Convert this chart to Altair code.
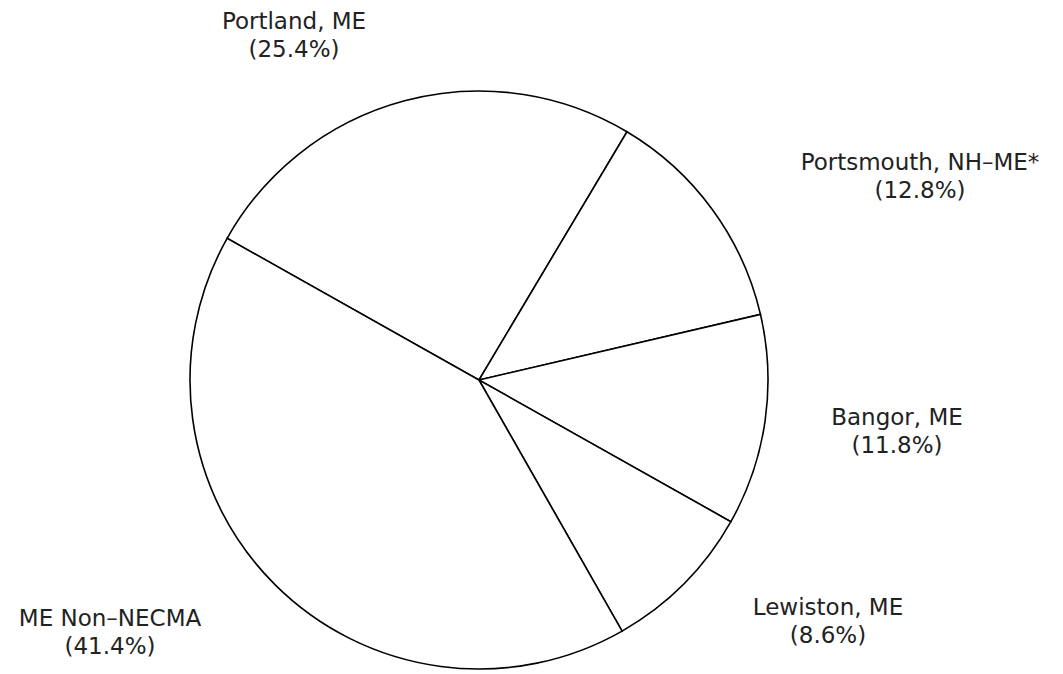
import math
import altair as alt
import pandas as pd

categories = ["Portland, ME", "Portsmouth, NH–ME*", "Bangor, ME", "Lewiston, ME", "ME Non–NECMA"]
shares = [25.4, 12.8, 11.8, 8.6, 41.4]
order = [0, 1, 2, 3, 4]

df = pd.DataFrame({"category": categories, "share": shares, "order": order})

start = math.radians(-60.64)

pie = alt.Chart(df).mark_arc(
    outerRadius=289, fill="white", stroke="black", strokeWidth=1.6
).encode(
    theta=alt.Theta("share:Q", stack=True, scale=alt.Scale(range=[start, start + 2 * math.pi])),
    order=alt.Order("order:Q"),
    x=alt.value(471),
    y=alt.value(372),
)

label_pos = {
    "Portland, ME": (286, 14),
    "Portsmouth, NH–ME*": (912, 155),
    "Bangor, ME": (889, 410),
    "Lewiston, ME": (820, 600),
    "ME Non–NECMA": (102, 611),
}

layers = [pie]
for cat, val in zip(categories, shares):
    px, py = label_pos[cat]
    t = alt.Chart(pd.DataFrame({"t": [[cat, f"({val}%)"]]})).mark_text(
        font="DejaVu Sans", fontSize=23, color="#222222", align="center",
        baseline="middle", lineHeight=28
    ).encode(text="t:N", x=alt.value(px), y=alt.value(py))
    layers.append(t)

chart = alt.layer(*layers).properties(
    width=1047, height=666, padding=0, autosize=alt.AutoSizeParams(type="none")
).configure_view(stroke=None)

chart.save("out.html", embed_options={"renderer": "svg", "actions": False})
